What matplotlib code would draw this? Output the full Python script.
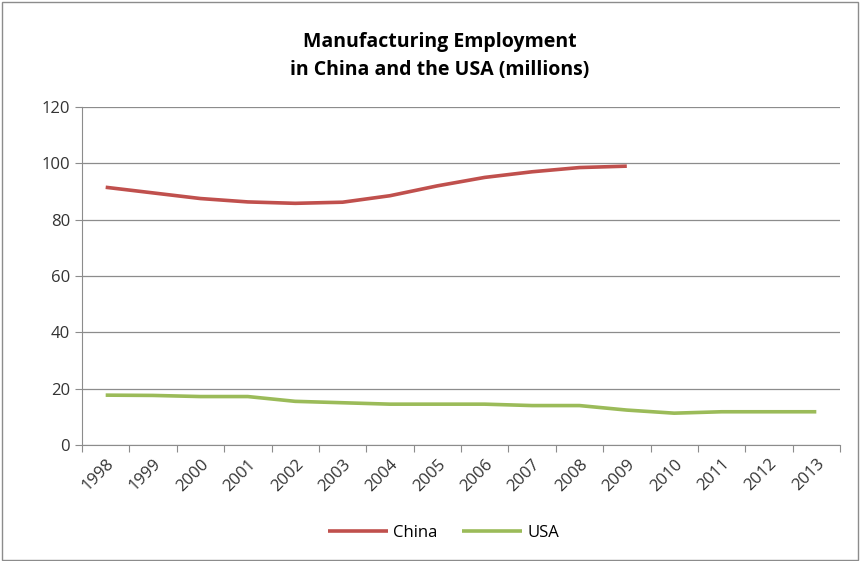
import numpy as np
import matplotlib.pyplot as plt

# Manufacturing employment, millions
years = ['1998', '1999', '2000', '2001', '2002', '2003', '2004', '2005',
         '2006', '2007', '2008', '2009', '2010', '2011', '2012', '2013']
china = [91.5, 89.5, 87.5, 86.3, 85.8, 86.2, 88.5, 92.0, 95.0, 97.0, 98.5, 99.0]
usa = [17.7, 17.6, 17.2, 17.2, 15.5, 15.0, 14.5, 14.5, 14.5, 14.0, 14.0,
       12.4, 11.3, 11.8, 11.8, 11.8]

plt.rcParams['font.family'] = ['Open Sans', 'DejaVu Sans']

fig = plt.figure(figsize=(8.61, 5.61), dpi=100)
fig.patches.append(plt.Rectangle((0.002, 0.002), 0.994, 0.994, transform=fig.transFigure,
                                 fill=False, edgecolor='#8c8c8c', linewidth=1))
ax = fig.add_axes([82 / 861, 1 - 445 / 561, (840 - 82) / 861, (445 - 107) / 561])

x = np.arange(len(years))
ax.plot(x[:len(china)], china, color='#C0504D', linewidth=2.6,
        solid_capstyle='butt', label='China')
ax.plot(x, usa, color='#9BBB59', linewidth=2.6, solid_capstyle='butt', label='USA')

ax.set_xlim(-0.5, len(years) - 0.5)
ax.set_ylim(0, 120)
ax.set_yticks(range(0, 121, 20))
ax.yaxis.grid(True, color='#8c8c8c', linewidth=0.9)
ax.set_axisbelow(True)

# category axis: ticks between categories, labels at centers
ax.set_xticks(np.arange(-0.5, len(years)), minor=False)
ax.set_xticklabels([])
ax.set_xticks(x, minor=True)
ax.set_xticklabels(years, minor=True, rotation=45, ha='right', rotation_mode='anchor',
                   fontsize=12, color='#333333')
ax.tick_params(axis='x', which='major', length=5, color='#8c8c8c')
ax.tick_params(axis='x', which='minor', length=0, pad=8)
ax.tick_params(axis='y', length=5, color='#8c8c8c', labelsize=12, labelcolor='#333333')

for s in ['top', 'right']:
    ax.spines[s].set_visible(False)
ax.spines['left'].set_color('#8c8c8c')
ax.spines['bottom'].set_color('#8c8c8c')

fig.text(0.511, 1 - 56 / 561, 'Manufacturing Employment\nin China and the USA (millions)',
         ha='center', va='center', fontsize=14, fontweight='bold', linespacing=1.55)

fig.legend(loc='center', bbox_to_anchor=(0.515, 1 - 533 / 561), ncol=2, frameon=False,
           fontsize=12, handlelength=3.6, handletextpad=0.3, columnspacing=1.5)

fig.savefig('out.png', dpi=100)
